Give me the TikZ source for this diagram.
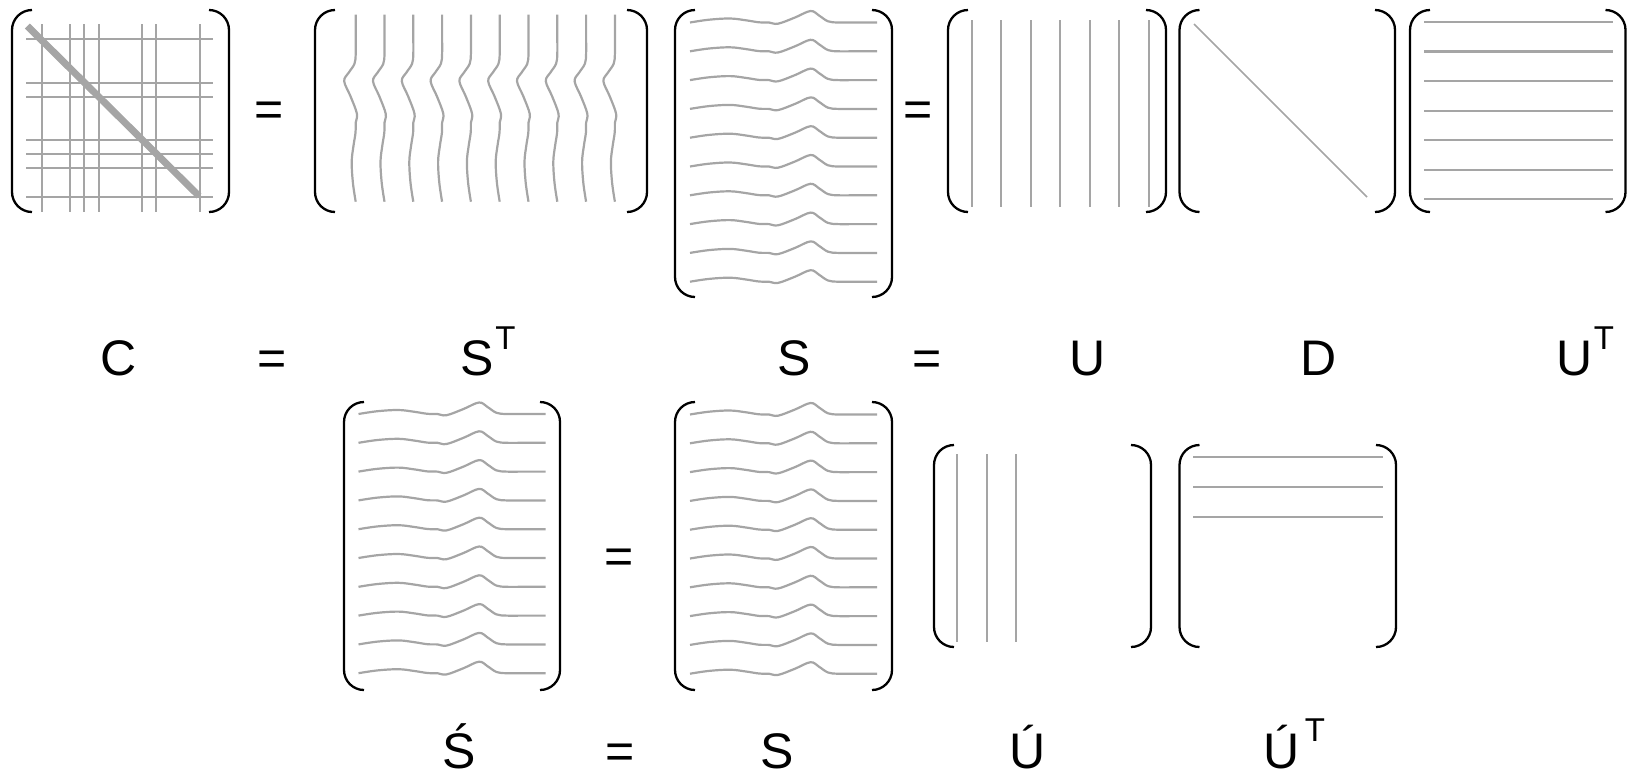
\documentclass[tikz,border=0pt]{standalone}
\usepackage{fontspec}
\setmainfont{Liberation Sans}
\definecolor{lg}{RGB}{165,165,165}
\newcommand\mybr[4]{%
  \draw[br] (#1+20,#2) -- (#1,#2) -- (#1,#4) -- (#1+20,#4);
  \draw[br] (#3-20,#2) -- (#3,#2) -- (#3,#4) -- (#3-20,#4);}
\tikzset{
  br/.style={line width=2.3pt, black, rounded corners=20pt},
  gl/.style={line width=2.2pt, lg},
  lbl/.style={font=\fontsize{50}{50}\selectfont, inner sep=0pt, anchor=base},
  suptxt/.style={font=\fontsize{33}{33}\selectfont, inner sep=0pt, anchor=base},
  wave/.pic={\draw[gl] plot[smooth,tension=0.6] coordinates {(0,0) (19,-2.8) (40,-4) (56,-2.2) (69,-0.2) (79,0) (88,1.2) (105,-5) (120.5,-11.5) (129,-7) (138,-1.2) (148,0) (165,0) (187,0)};}
}
\begin{document}
\begin{tikzpicture}[x=1pt,y=-1pt]
\useasboundingbox (0,0) rectangle (1627,772);
% ---- C ----
\foreach \y in {39.3,82.7,96.7,140,154,168.3,197.3} \draw[gl] (26,\y) -- (213,\y);
\foreach \x in {41.7,70,84,98.7,142.3,156,200} \draw[gl] (\x,24) -- (\x,212);
\draw[lg, line width=7pt] (27.3,26) -- (199,196);
\mybr{12}{10}{229}{212}
\node[lbl] (eq1) at (269,126.5) {=};
% ---- S^T ----
\foreach \k in {0,...,9} \pic[rotate=90] at ({355.7+28.8*\k},201.7) {wave};
\mybr{315}{10}{647}{212}
% ---- S ----
\foreach \k in {0,...,9} \pic at (690,{22.5+28.8*\k}) {wave};
\mybr{675}{10}{892}{297}
\node[lbl] (eq2) at (918,126.5) {=};
% ---- U ----
\foreach \k in {0,...,6} \draw[gl] ({971.7+29.5*\k},20) -- ({971.7+29.5*\k},207);
\mybr{948}{10}{1166}{212}
% ---- D ----
\draw[lg, line width=1.7pt] (1194,24) -- (1367,197);
\mybr{1179.5}{10}{1395}{212}
% ---- U^T ----
\foreach \k in {0,...,6} \draw[gl] (1424,{22+29.55*\k}) -- (1613,{22+29.55*\k});
\mybr{1410}{10}{1625.5}{212}
% ---- row 1 labels ----
\node[lbl] (lC) at (118.5,375.5) {C};
\node[lbl] (lE1) at (272,375.5) {=};
\node[lbl] (lST) at (477,375.5) {S};
\node[suptxt] (lSTt) at (505.5,349) {T};
\node[lbl] (lS) at (794,375.5) {S};
\node[lbl] (lE2) at (927,375.5) {=};
\node[lbl] (lU) at (1087.5,375.5) {U};
\node[lbl] (lD) at (1319,375.5) {D};
\node[lbl] (lUT) at (1575,375.5) {U};
\node[suptxt] (lUTt) at (1604,349) {T};
% ---- S' ----
\foreach \k in {0,...,9} \pic at (358.5,{414+28.8*\k}) {wave};
\mybr{344}{402}{560}{690}
\node[lbl] (eq3) at (619.5,573.5) {=};
% ---- S (bottom) ----
\foreach \k in {0,...,9} \pic at (690,{414.5+28.8*\k}) {wave};
\mybr{675}{402}{892}{690}
% ---- U' ----
\foreach \x in {957.3,986.7,1016.3} \draw[gl] (\x,454) -- (\x,642);
\mybr{934}{445}{1151}{647}
% ---- U'^T ----
\foreach \y in {457.3,486.7,516.7} \draw[gl] (1193,\y) -- (1383,\y);
\mybr{1179.5}{445}{1396}{647}
% ---- row 2 labels ----
\node[lbl] (lSp) at (459,768) {Ś};
\node[lbl] (lE3) at (620,768) {=};
\node[lbl] (lS2) at (777,768) {S};
\node[lbl] (lUp) at (1028,768) {Ú};
\node[lbl] (lUpT) at (1281.7,768) {Ú};
\node[suptxt] (lUpTt) at (1315,741.3) {T};
\end{tikzpicture}
\end{document}
